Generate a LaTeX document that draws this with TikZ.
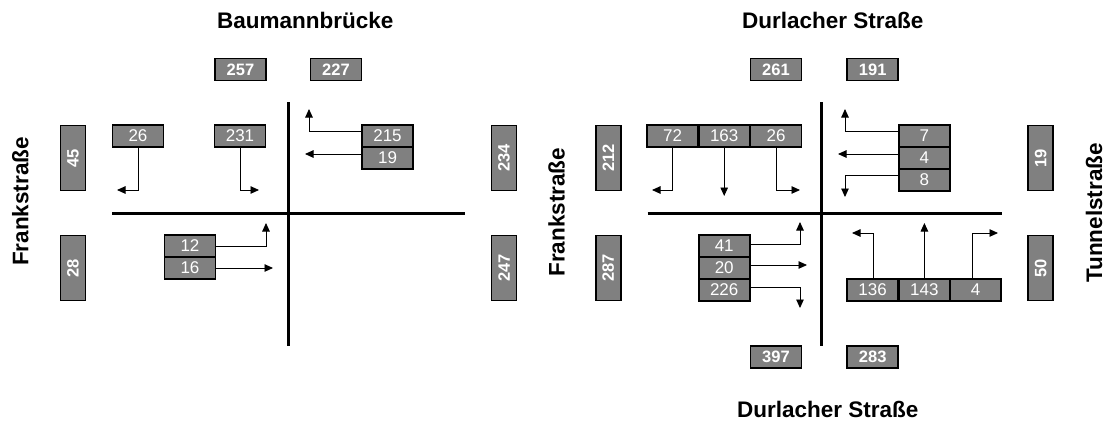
\documentclass[tikz,border=0pt]{standalone}
\usepackage{fontspec}
\setmainfont{Liberation Sans}
\usetikzlibrary{arrows.meta}
\definecolor{boxgray}{HTML}{808080}
\begin{document}
\begin{tikzpicture}[x=1pt,y=-1pt,
  box/.style={draw=black, line width=1.9pt, fill=boxgray, text=white, inner sep=0pt, font=\fontsize{17}{20}\selectfont},
  mv/.style={box, minimum width=51pt, minimum height=22pt},
  sumbox/.style={box, font=\fontsize{16.5}{20}\selectfont\bfseries, minimum width=51pt, minimum height=22pt},
  tall/.style={box, font=\fontsize{16.5}{20}\selectfont\bfseries, minimum width=65pt, minimum height=25pt, rotate=90},
  flow/.style={line width=0.9pt, -{Triangle[length=8.5pt,width=7.5pt]}},
  road/.style={line width=3pt},
  lbl/.style={font=\fontsize{22.5}{27}\selectfont\bfseries, inner sep=0pt}]
\useasboundingbox (0,0) rectangle (1109,426);

% ---------- left intersection ----------
\draw[road] (288,102) -- (288,346);
\draw[road] (112,213) -- (465,213);

\node[lbl, anchor=base west] (lBau) at (217,28.3) {Baumannbrücke};
\node[lbl, rotate=90] (lFrL) at (20.3,201.5) {Frankstraße};

\node[sumbox] (s257) at (240.5,69.5) {257};
\node[sumbox] (s227) at (336,69.5) {227};
\node[tall] (s45) at (73,158) {45};
\node[tall] (s28) at (73,268) {28};
\node[tall] (s234) at (504,158) {234};
\node[tall] (s247) at (504,268) {247};

\node[mv] (m26) at (138,136) {26};
\node[mv] (m231) at (240,136) {231};
\node[mv] (m215) at (387.5,136) {215};
\node[mv] (m19) at (387.5,158) {19};
\node[mv] (m12) at (190,246) {12};
\node[mv] (m16) at (190,268) {16};

\coordinate (t26) at (117,190);
\coordinate (t231) at (259,190);
\coordinate (t215) at (309,109);
\coordinate (t19) at (305,154);
\coordinate (t12) at (266,223);
\coordinate (t16) at (273,268);

\draw[flow] (m26.south) |- (t26);
\draw[flow] (m231.south) |- (t231);
\draw[flow] ([yshift=5pt]m215.west) -| (t215);
\draw[flow] ([yshift=4pt]m19.west) -- (t19);
\draw[flow] (m12.east) -| (t12);
\draw[flow] (m16.east) -- (t16);

% ---------- right intersection ----------
\draw[road] (821,102) -- (821,346);
\draw[road] (647.5,213) -- (1002,213);

\node[lbl, anchor=base west] (lDurT) at (742,28.3) {Durlacher Straße};
\node[lbl, anchor=base west] (lDurB) at (737,417.3) {Durlacher Straße};
\node[lbl, rotate=90] (lFrR) at (556.5,212.3) {Frankstraße};
\node[lbl, rotate=90] (lTun) at (1094,213) {Tunnelstraße};

\node[sumbox] (s261) at (776,69.5) {261};
\node[sumbox] (s191) at (872.7,69.5) {191};
\node[sumbox] (s397) at (776,357) {397};
\node[sumbox] (s283) at (872.7,357) {283};
\node[tall] (s212) at (608.3,158) {212};
\node[tall] (s287) at (608.3,268) {287};
\node[tall] (s19r) at (1040.8,158) {19};
\node[tall] (s50) at (1040.8,268) {50};

\node[mv] (m72) at (672.6,136) {72};
\node[mv] (m163) at (724.2,136) {163};
\node[mv] (m26r) at (776,136) {26};
\node[mv] (m7) at (924.4,136) {7};
\node[mv] (m4) at (924.4,158) {4};
\node[mv] (m8) at (924.4,180) {8};
\node[mv] (m41) at (724.2,246) {41};
\node[mv] (m20) at (724.2,268) {20};
\node[mv] (m226) at (724.2,290) {226};
\node[mv] (m136) at (872.6,290) {136};
\node[mv] (m143) at (924.4,290) {143};
\node[mv] (m4b) at (975.6,290) {4};

\coordinate (t72) at (652,190);
\coordinate (t163) at (724.2,196);
\coordinate (t26r) at (800,190);
\coordinate (t7) at (845,109);
\coordinate (t4) at (838,154);
\coordinate (t8) at (845,197);
\coordinate (t41) at (800,222);
\coordinate (t20) at (807,265);
\coordinate (t226) at (800,308);
\coordinate (t136) at (852,233);
\coordinate (t143) at (924.4,223);
\coordinate (t4b) at (998,233);

\draw[flow] (m72.south) |- (t72);
\draw[flow] (m163.south) -- (t163);
\draw[flow] (m26r.south) |- (t26r);
\draw[flow] ([yshift=5pt]m7.west) -| (t7);
\draw[flow] ([yshift=4pt]m4.west) -- (t4);
\draw[flow] ([yshift=5pt]m8.west) -| (t8);
\draw[flow] ([yshift=2pt]m41.east) -| (t41);
\draw[flow] ([yshift=3pt]m20.east) -- (t20);
\draw[flow] ([yshift=3pt]m226.east) -| (t226);
\draw[flow] ([xshift=1pt]m136.north) |- (t136);
\draw[flow] (m143.north) -- (t143);
\draw[flow] ([xshift=-3pt]m4b.north) |- (t4b);
\end{tikzpicture}
\end{document}
